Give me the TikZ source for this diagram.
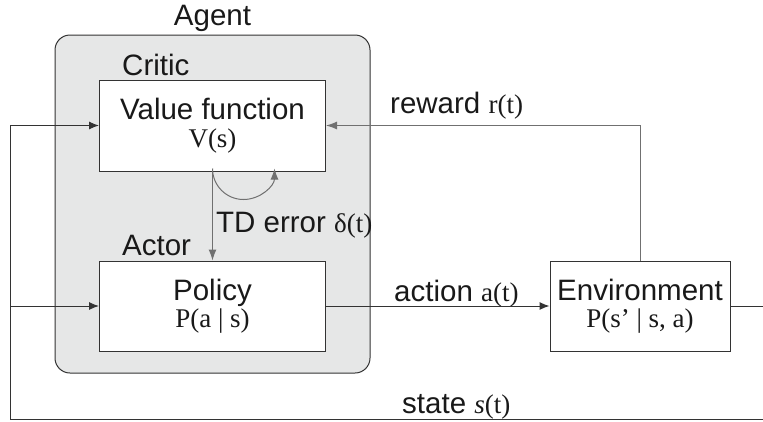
\documentclass[tikz,border=0pt]{standalone}
\usepackage{fontspec}
\setmainfont{Liberation Sans}
\newfontfamily\serifm{Liberation Serif}
\usetikzlibrary{arrows.meta}
\definecolor{linedark}{HTML}{333333}
\definecolor{linegray}{HTML}{707070}
\definecolor{agentfill}{HTML}{E6E7E7}
\newcommand{\mathfnt}{\serifm\fontsize{27}{29}\selectfont}
\tikzset{
  boxnode/.style={draw=linedark, line width=1pt, fill=white, inner sep=0pt},
  agentbox/.style={draw=linedark, line width=1pt, fill=agentfill, rounded corners=15pt, inner sep=0pt},
  sanslbl/.style={inner sep=0pt, font=\fontsize{29.5}{32}\selectfont, text=black!90},
  seriflbl/.style={inner sep=0pt, font=\mathfnt, text=black!90},
  darkline/.style={draw=linedark, line width=1pt},
  darkarrow/.style={darkline, -{Latex[length=10pt,width=8pt]}},
  grayarrow/.style={draw=linegray, line width=1pt, -{Latex[length=11pt,width=8pt]}, color=linegray},
}
\begin{document}
\begin{tikzpicture}[x=1pt,y=-1pt]
\useasboundingbox (0,0) rectangle (763,421);
% agent container
\node[agentbox, minimum width=315pt, minimum height=338pt] (agent) at (212.5,204) {};
\node[sanslbl, anchor=base] (agentlbl) at (212.5,25) {Agent};
% boxes
\node[boxnode, minimum width=226pt, minimum height=91pt] (vf) at (212.5,125.5) {};
\node[boxnode, minimum width=226pt, minimum height=90pt] (pol) at (212.5,306) {};
\node[boxnode, minimum width=180pt, minimum height=90pt] (env) at (640,306) {};
% box texts
\node[sanslbl, anchor=base west] (critic) at (122,75) {Critic};
\node[sanslbl, anchor=base, text depth=0pt] (vftxt) at (212.5,119) {Value function};
\node[seriflbl, anchor=base] (vfmath) at (212.5,147) {V(s)};
\node[sanslbl, anchor=base west] (actor) at (122,255) {Actor};
\node[sanslbl, anchor=base] (poltxt) at (212.5,300) {Policy};
\node[seriflbl, anchor=base] (polmath) at (212.5,327) {P(a | s)};
\node[sanslbl, anchor=base] (envtxt) at (640,300) {Environment};
\node[seriflbl, anchor=base] (envmath) at (640,327) {P(s’ | s, a)};
% connector labels
\node[sanslbl, anchor=base west] (tdlbl) at (216,232) {TD error {\mathfnt δ(t)}};
\node[sanslbl, anchor=base west] (rewlbl) at (390,113) {reward {\mathfnt r(t)}};
\node[sanslbl, anchor=base west] (actlbl) at (394,301.5) {action {\mathfnt a(t)}};
\node[sanslbl, anchor=base west] (stlbl) at (402,413) {state {\mathfnt\itshape s\upshape(t)}};
% free ends
\coordinate (sl) at (10,419);
\coordinate (sr) at (763,419);
\coordinate (er) at (763,306);
% connectors
\draw[darkline] (env.east) -- (er);
\draw[darkarrow] (sr) -- (sl) |- (vf.west);
\draw[darkarrow] (sl |- pol.west) -- (pol.west);
\draw[darkarrow] (pol.east) -- (env.west);
\draw[grayarrow] (env.north) |- (vf.east);
\draw[grayarrow] (vf.south) -- (pol.north);
\draw[grayarrow] ([yshift=3pt]vf.south) arc[start angle=180, end angle=0, radius=31];
\end{tikzpicture}
\end{document}
